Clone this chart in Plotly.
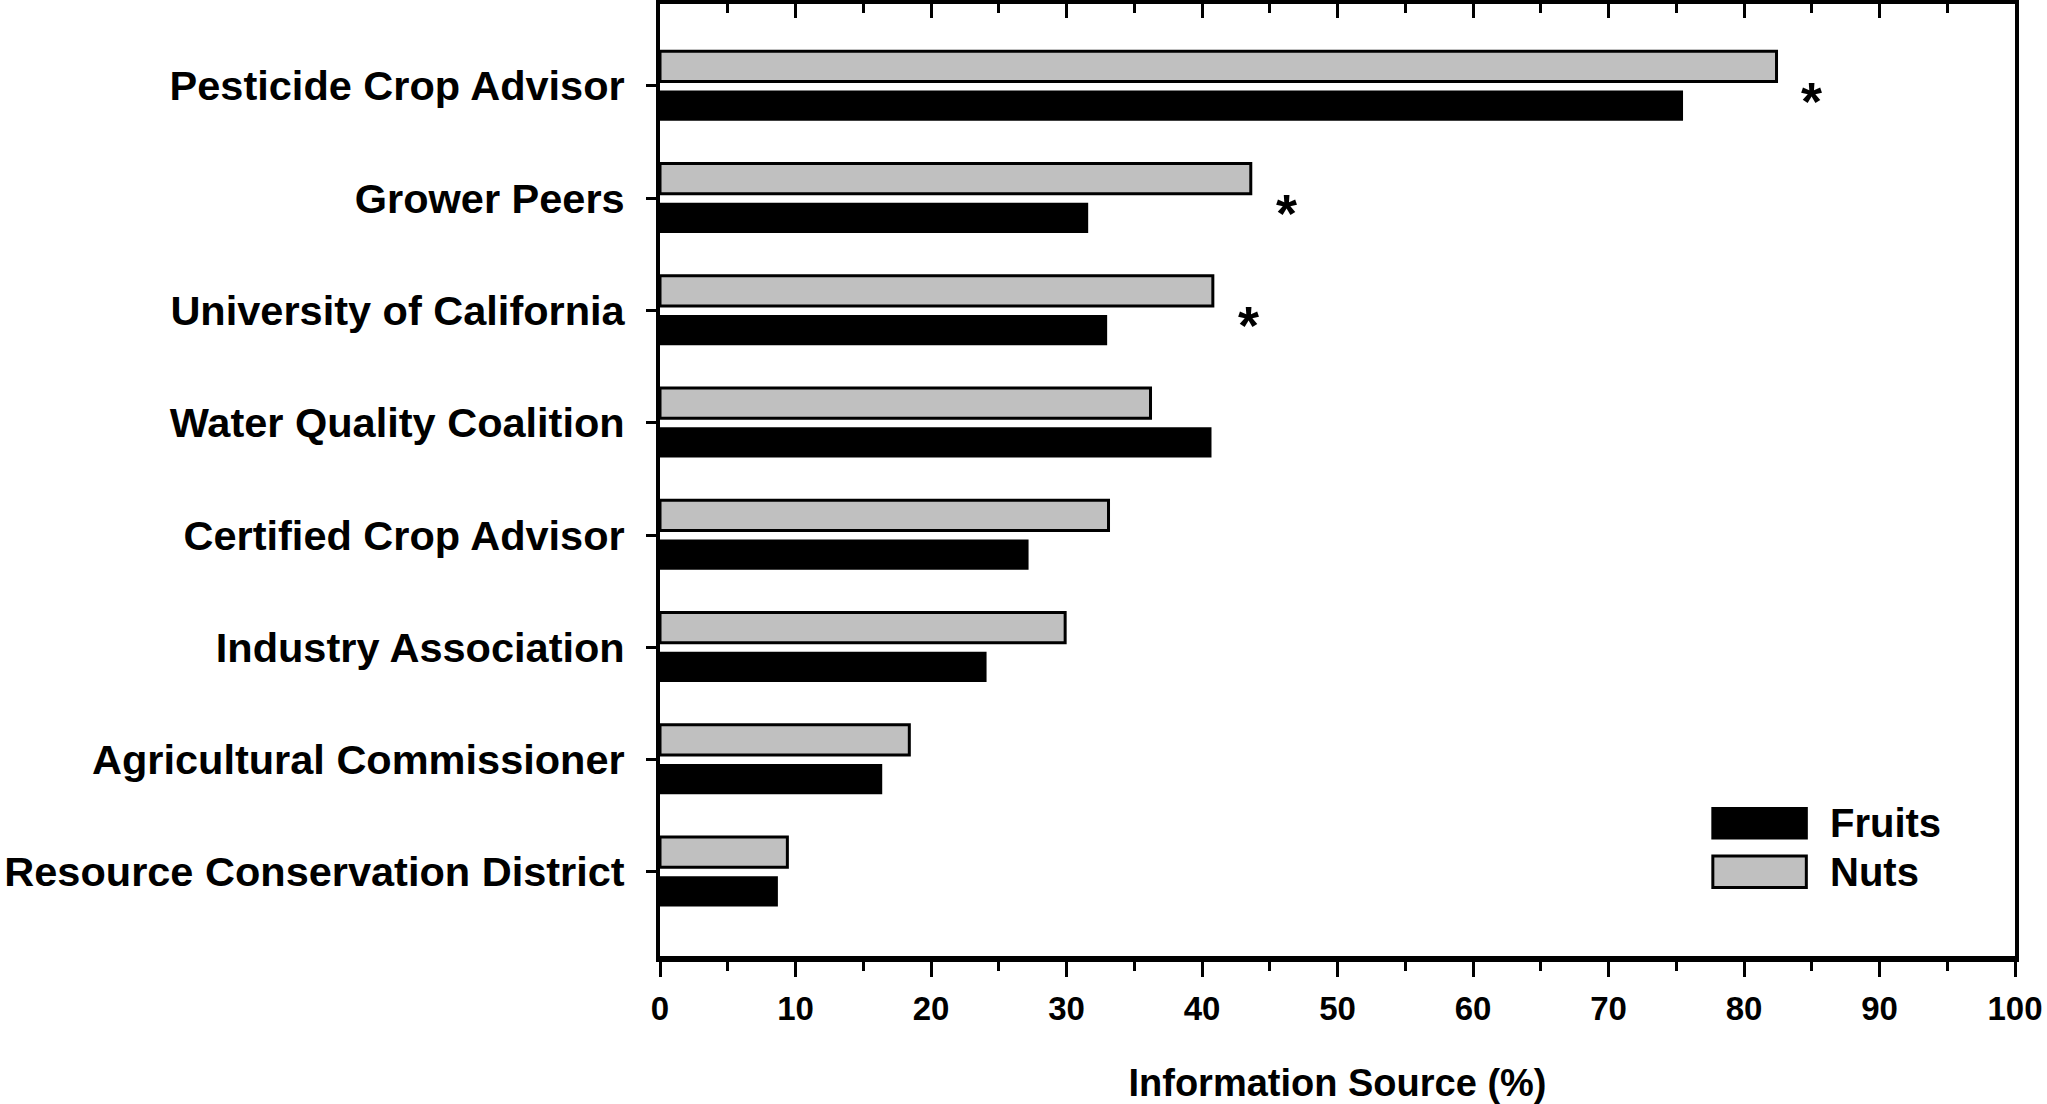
import plotly.graph_objects as go

# sources, top to bottom
sources = ['Pesticide Crop Advisor', 'Grower Peers', 'University of California',
           'Water Quality Coalition', 'Certified Crop Advisor', 'Industry Association',
           'Agricultural Commissioner', 'Resource Conservation District']
nuts = [82.4, 43.6, 40.8, 36.2, 33.1, 29.9, 18.4, 9.4]
fruits = [75.5, 31.6, 33.0, 40.7, 27.2, 24.1, 16.4, 8.7]
# significant difference marks
signif = ['Pesticide Crop Advisor', 'Grower Peers', 'University of California']

FONT = 'Liberation Sans'
GRAY = '#c0c0c0'
BLACK = '#000000'

fig = go.Figure()
fig.add_trace(go.Bar(y=sources, x=nuts, orientation='h', name='Nuts',
                     marker=dict(color=GRAY, line=dict(color=BLACK, width=3))))
fig.add_trace(go.Bar(y=sources, x=fruits, orientation='h', name='Fruits',
                     marker=dict(color=BLACK, line=dict(color=BLACK, width=0))))
# dummy trace so the top axis gets drawn
fig.add_trace(go.Scatter(x=[0], y=[sources[0]], xaxis='x2', mode='markers',
                         marker=dict(opacity=0), showlegend=False, hoverinfo='skip'))

# asterisks next to the nuts bars
for s in signif:
    i = sources.index(s)
    fig.add_annotation(x=nuts[i] + 2.6, y=s, text='*', showarrow=False,
                       xanchor='center', yanchor='middle', yshift=-15,
                       font=dict(family=FONT, size=54, color=BLACK, weight='bold'))

# legend drawn by hand (plotly bar swatches are too small)
leg = [('Fruits', BLACK, 0.124, 0.155), ('Nuts', GRAY, 0.072, 0.105)]
for name, col, y0, y1 in leg:
    fig.add_shape(type='rect', xref='paper', yref='paper', x0=0.777, x1=0.846,
                  y0=y0, y1=y1, fillcolor=col, line=dict(color=BLACK, width=3))
    fig.add_annotation(xref='paper', yref='paper', x=0.862, y=(y0 + y1) / 2,
                       text=name, showarrow=False, xanchor='left', yanchor='middle',
                       font=dict(family=FONT, size=40, color=BLACK, weight='bold'))

fig.update_layout(
    width=2047, height=1104,
    margin=dict(l=647, r=28, t=4, b=148),
    paper_bgcolor='white', plot_bgcolor='white',
    barmode='group', bargap=0.30, bargroupgap=0.23,
    showlegend=False,
    font=dict(family=FONT, color=BLACK),
    xaxis=dict(range=[0, 100], dtick=10, showgrid=False, zeroline=False,
               showline=True, linecolor=BLACK, linewidth=6,
               ticks='outside', ticklen=15, tickwidth=3, tickcolor=BLACK,
               minor=dict(dtick=5, ticks='outside', ticklen=9, tickwidth=3, tickcolor=BLACK),
               tickfont=dict(family=FONT, size=33, color=BLACK, weight='bold'),
               ticklabelstandoff=3,
               title=dict(text='Information Source (%)', standoff=47,
                          font=dict(family=FONT, size=38, color=BLACK, weight='bold'))),
    xaxis2=dict(range=[0, 100], dtick=10, overlaying='x', side='top',
                showgrid=False, zeroline=False, showticklabels=False,
                showline=True, linecolor=BLACK, linewidth=4,
                ticks='inside', ticklen=14, tickwidth=3, tickcolor=BLACK,
                minor=dict(dtick=5, ticks='inside', ticklen=9, tickwidth=3, tickcolor=BLACK)),
    yaxis=dict(type='category', categoryorder='array', categoryarray=sources,
               range=[7.75, -0.73], showgrid=False, zeroline=False,
               showline=True, linecolor=BLACK, linewidth=4, mirror=True,
               ticks='outside', ticklen=10, tickwidth=3, tickcolor=BLACK,
               ticklabelstandoff=13,
               tickfont=dict(family=FONT, size=41.5, color=BLACK, weight='bold')),
)

# drop the default page margin so the figure sits at the window corner
fig.write_html('out.html', config={'displayModeBar': False},
               post_script="document.body.style.margin='0';")
